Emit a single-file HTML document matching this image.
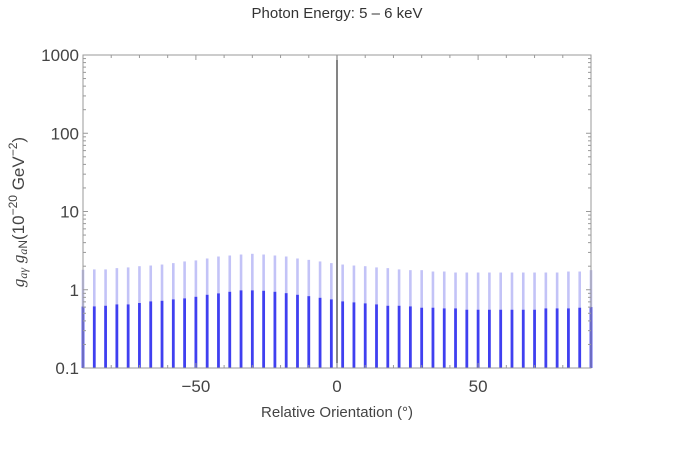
<!DOCTYPE html>
<html><head><meta charset="utf-8"><style>
html,body{margin:0;padding:0;background:#fff;}
svg text{font-family:"Liberation Sans",sans-serif;}
</style></head><body>
<svg id="chart" width="674" height="452" viewBox="0 0 674 452" xmlns="http://www.w3.org/2000/svg">
<text x="337" y="18" text-anchor="middle" font-size="15" fill="#333">Photon Energy: 5 – 6 keV</text>
<g id="plot"></g>
<text x="337" y="417" text-anchor="middle" font-size="15" fill="#444">Relative Orientation (°)</text>
<text transform="translate(24,212) rotate(-90)" text-anchor="middle" font-size="17" fill="#444"><tspan font-family="Liberation Serif" font-style="italic">g</tspan><tspan font-family="Liberation Serif" font-style="italic" font-size="12" dy="3">aγ</tspan><tspan dy="-3"> </tspan><tspan font-family="Liberation Serif" font-style="italic">g</tspan><tspan font-family="Liberation Serif" font-style="italic" font-size="12" dy="3">a</tspan><tspan font-size="12">N</tspan><tspan dy="-3">(10</tspan><tspan font-size="12" dy="-7">−20</tspan><tspan dy="7"> GeV</tspan><tspan font-size="12" dy="-7">−2</tspan><tspan dy="7">)</tspan></text>
</svg>
<script>
const angles = [-90,-86,-82,-78,-74,-70,-66,-62,-58,-54,-50,-46,-42,-38,-34,-30,-26,-22,-18,-14,-10,-6,-2,2,6,10,14,18,22,26,30,34,38,42,46,50,54,58,62,66,70,74,78,82,86,90];
const upperVals = [1.80,1.82,1.82,1.89,1.93,2.00,2.04,2.10,2.19,2.30,2.37,2.51,2.66,2.74,2.82,2.88,2.82,2.74,2.66,2.51,2.41,2.30,2.19,2.10,2.04,2.00,1.93,1.89,1.82,1.78,1.78,1.71,1.71,1.66,1.66,1.66,1.66,1.66,1.66,1.66,1.66,1.66,1.66,1.71,1.71,1.78];
const lowerVals = [0.61,0.613,0.625,0.650,0.650,0.676,0.710,0.724,0.753,0.775,0.814,0.863,0.898,0.943,0.98,0.98,0.971,0.943,0.907,0.863,0.830,0.791,0.753,0.710,0.689,0.669,0.650,0.625,0.625,0.613,0.590,0.590,0.578,0.578,0.556,0.556,0.556,0.556,0.556,0.556,0.556,0.578,0.578,0.578,0.590,0.601];
const xTicks = [-50,0,50];
const yTicks = [0.1,1,10,100,1000];
const yTickLabels = ["0.1","1","10","100","1000"];

const NS="http://www.w3.org/2000/svg";
const X0=83,X1=591,Y0=368,Y1=55;
function sx(v){return X0+(v+90)/180*(X1-X0);}
function sy(v){return Y0-(Math.log10(v)+1)/4*(Y0-Y1);}
const g=document.getElementById('plot');
function mk(t,a){const e=document.createElementNS(NS,t);for(const k in a)e.setAttribute(k,a[k]);g.appendChild(e);return e;}

angles.forEach((a,i)=>{
  const x=sx(a);
  const u=mk('line',{x1:x,x2:x,y1:sy(lowerVals[i]),y2:sy(upperVals[i]),stroke:'#c3c3f7','stroke-width':2.6});
  
  
  const l=mk('line',{x1:x,x2:x,y1:Y0,y2:sy(lowerVals[i]),stroke:'#3f3ff0','stroke-width':2.8});
  
  
});
const zl=mk('line',{x1:sx(0),x2:sx(0),y1:Y1,y2:Y0,stroke:'#333','stroke-width':1.2});


const fr=mk('rect',{x:X0,y:Y1,width:X1-X0,height:Y0-Y1,fill:'none',stroke:'#999','stroke-width':1});


for(let d=-1;d<3;d++){for(let m=1;m<10;m++){const v=m*Math.pow(10,d);const y=sy(v);const len=m==1?5:3;
  mk('line',{x1:X0,x2:X0+len,y1:y,y2:y,stroke:'#999'});mk('line',{x1:X1,x2:X1-len,y1:y,y2:y,stroke:'#999'});}}
yTicks.forEach((v,i)=>{const t=mk('text',{x:X0-4,y:sy(v)+6,'text-anchor':'end','font-size':17,fill:'#444'});t.textContent=yTickLabels[i];
  
  });
for(let v=-90;v<=90;v+=10){const x=sx(v);const len=v%50==0?5:3;
  mk('line',{x1:x,x2:x,y1:Y0,y2:Y0-len,stroke:'#999'});mk('line',{x1:x,x2:x,y1:Y1,y2:Y1+len,stroke:'#999'});}
xTicks.forEach(v=>{const t=mk('text',{x:sx(v),y:Y0+24,'text-anchor':'middle','font-size':17,fill:'#444'});t.textContent=v<0?'−'+(-v):String(v);
  
  });
</script>
</body></html>
